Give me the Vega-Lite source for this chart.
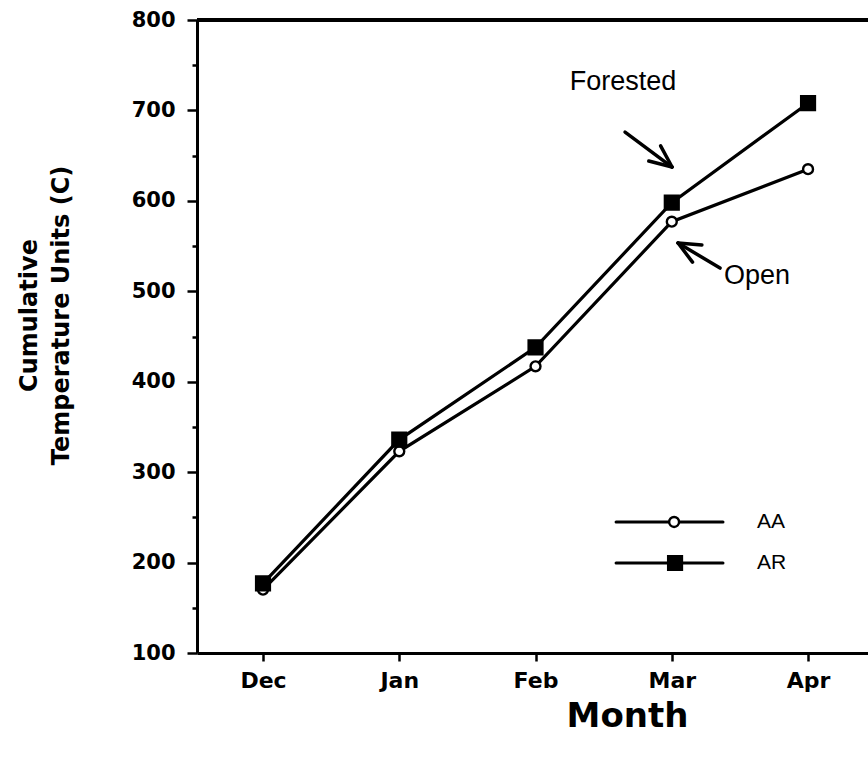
{
  "$schema": "https://vega.github.io/schema/vega-lite/v6.json",
  "width": 671,
  "height": 633,
  "autosize": "none",
  "padding": {"left": 197, "top": 20, "right": 0, "bottom": 108},
  "background": "white",
  "config": {"view": {"stroke": null}, "font": "DejaVu Sans"},
  "datasets": {
    "series": [
      {"month": 0, "series": "AA", "value": 170},
      {"month": 1, "series": "AA", "value": 323},
      {"month": 2, "series": "AA", "value": 417},
      {"month": 3, "series": "AA", "value": 577},
      {"month": 4, "series": "AA", "value": 635},
      {"month": 0, "series": "AR", "value": 177},
      {"month": 1, "series": "AR", "value": 336},
      {"month": 2, "series": "AR", "value": 438},
      {"month": 3, "series": "AR", "value": 598},
      {"month": 4, "series": "AR", "value": 708}
    ],
    "notes": [
      {"x": 2.642, "y": 731, "text": "Forested"},
      {"x": 3.626, "y": 516.9, "text": "Open"}
    ],
    "arrows": [
      {"x": 2.657, "y": 676.1, "x2": 3.002, "y2": 637.4},
      {"x": 3.002, "y": 637.4, "x2": 2.918, "y2": 660.8},
      {"x": 3.002, "y": 637.4, "x2": 2.831, "y2": 644.0},
      {"x": 3.354, "y": 525.7, "x2": 3.046, "y2": 553.4},
      {"x": 3.046, "y": 553.4, "x2": 3.221, "y2": 551.3},
      {"x": 3.046, "y": 553.4, "x2": 3.152, "y2": 532.2}
    ]
  },
  "layer": [
    {
      "data": {"name": "series"},
      "mark": {"type": "rule", "color": "black", "strokeWidth": 3},
      "encoding": {"y": {"datum": 800, "type": "quantitative"}}
    },
    {
      "data": {"name": "series"},
      "mark": {"type": "line", "color": "black", "strokeWidth": 3.2},
      "encoding": {
        "x": {
          "field": "month",
          "type": "quantitative",
          "scale": {"domain": [-0.4844, 4.44], "nice": false, "zero": false},
          "axis": {
            "values": [0, 1, 2, 3, 4],
            "labelExpr": "['Dec','Jan','Feb','Mar','Apr'][datum.value]",
            "grid": false,
            "domainColor": "black",
            "domainWidth": 3,
            "tickColor": "black",
            "tickWidth": 2.5,
            "tickSize": 8,
            "labelFont": "DejaVu Sans",
            "labelFontWeight": "bold",
            "labelFontSize": 22,
            "labelColor": "black",
            "labelPadding": 9,
            "title": "Month",
            "titleFont": "DejaVu Sans",
            "titleFontWeight": "bold",
            "titleFontSize": 34,
            "titleColor": "black",
            "titlePadding": 8,
            "titleX": 430,
            "titleAlign": "center"
          }
        },
        "y": {
          "field": "value",
          "type": "quantitative",
          "scale": {"domain": [100, 800], "nice": false, "zero": false},
          "axis": {
            "values": [100, 150, 200, 250, 300, 350, 400, 450, 500, 550, 600, 650, 700, 750, 800],
            "labelExpr": "datum.value % 100 === 0 ? datum.label : ''",
            "grid": false,
            "domainColor": "black",
            "domainWidth": 3,
            "tickColor": "black",
            "tickWidth": 2.5,
            "tickSize": {"condition": {"test": "datum.value % 100 === 0", "value": 10}, "value": 5},
            "labelFont": "DejaVu Sans",
            "labelFontWeight": "bold",
            "labelFontSize": 21,
            "labelColor": "black",
            "labelPadding": 12,
            "title": ["Cumulative", "Temperature  Units  (C)"],
            "titleFont": "DejaVu Sans",
            "titleFontWeight": "bold",
            "titleFontSize": 24,
            "titleColor": "black",
            "titleLineHeight": 32,
            "titleX": -168,
            "titleY": 295,
            "titleBaseline": "middle",
            "titleAlign": "center"
          }
        },
        "detail": {"field": "series", "type": "nominal"}
      }
    },
    {
      "data": {"name": "series"},
      "mark": {"type": "point", "filled": true, "stroke": "black", "strokeWidth": 2.4, "opacity": 1, "size": 190},
      "encoding": {
        "x": {"field": "month", "type": "quantitative"},
        "y": {"field": "value", "type": "quantitative"},
        "fill": {"condition": {"test": "datum.series === 'AR'", "value": "black"}, "value": "white"},
        "shape": {
          "field": "series",
          "type": "nominal",
          "scale": {"domain": ["AA", "AR"], "range": ["M0.72,0A0.72,0.72,0,1,1,-0.72,0A0.72,0.72,0,1,1,0.72,0Z", "square"]},
          "legend": null
        }
      }
    },
    {
      "data": {"name": "series"},
      "transform": [{"filter": "datum.series === 'AA' && datum.month === 0"}],
      "mark": {"type": "rule", "color": "black", "strokeWidth": 3, "strokeCap": "round"},
      "encoding": {
        "x": {"datum": 2.591, "type": "quantitative"},
        "x2": {"datum": 3.376},
        "y": {"datum": 244.9, "type": "quantitative"}
      }
    },
    {
      "data": {"name": "series"},
      "transform": [{"filter": "datum.series === 'AR' && datum.month === 0"}],
      "mark": {"type": "rule", "color": "black", "strokeWidth": 3, "strokeCap": "round"},
      "encoding": {
        "x": {"datum": 2.591, "type": "quantitative"},
        "x2": {"datum": 3.376},
        "y": {"datum": 199.5, "type": "quantitative"}
      }
    },
    {
      "data": {"name": "series"},
      "transform": [{"filter": "datum.series === 'AA' && datum.month === 0"}],
      "mark": {"type": "point", "filled": true, "fill": "white", "stroke": "black", "strokeWidth": 2.4, "opacity": 1, "size": 190, "shape": "M0.72,0A0.72,0.72,0,1,1,-0.72,0A0.72,0.72,0,1,1,0.72,0Z"},
      "encoding": {
        "x": {"datum": 3.017, "type": "quantitative"},
        "y": {"datum": 244.9, "type": "quantitative"}
      }
    },
    {
      "data": {"name": "series"},
      "transform": [{"filter": "datum.series === 'AR' && datum.month === 0"}],
      "mark": {"type": "point", "filled": true, "fill": "black", "stroke": "black", "strokeWidth": 2.4, "opacity": 1, "size": 190, "shape": "square"},
      "encoding": {
        "x": {"datum": 3.024, "type": "quantitative"},
        "y": {"datum": 199.5, "type": "quantitative"}
      }
    },
    {
      "data": {"name": "series"},
      "transform": [{"filter": "datum.series === 'AA' && datum.month === 0"}],
      "mark": {"type": "text", "font": "Liberation Sans", "fontSize": 21, "color": "black", "align": "left", "baseline": "middle"},
      "encoding": {
        "x": {"datum": 3.626, "type": "quantitative"},
        "y": {"datum": 244.9, "type": "quantitative"},
        "text": {"field": "series"}
      }
    },
    {
      "data": {"name": "series"},
      "transform": [{"filter": "datum.series === 'AR' && datum.month === 0"}],
      "mark": {"type": "text", "font": "Liberation Sans", "fontSize": 21, "color": "black", "align": "left", "baseline": "middle"},
      "encoding": {
        "x": {"datum": 3.626, "type": "quantitative"},
        "y": {"datum": 199.5, "type": "quantitative"},
        "text": {"field": "series"}
      }
    },
    {
      "data": {"name": "arrows"},
      "mark": {"type": "rule", "color": "black", "strokeWidth": 3.5, "strokeCap": "round"},
      "encoding": {
        "x": {"field": "x", "type": "quantitative"},
        "y": {"field": "y", "type": "quantitative"},
        "x2": {"field": "x2"},
        "y2": {"field": "y2"}
      }
    },
    {
      "data": {"name": "notes"},
      "mark": {"type": "text", "font": "Liberation Sans", "fontSize": 27, "color": "black", "align": "center", "baseline": "middle"},
      "encoding": {
        "x": {"field": "x", "type": "quantitative"},
        "y": {"field": "y", "type": "quantitative"},
        "text": {"field": "text"}
      }
    }
  ]
}
